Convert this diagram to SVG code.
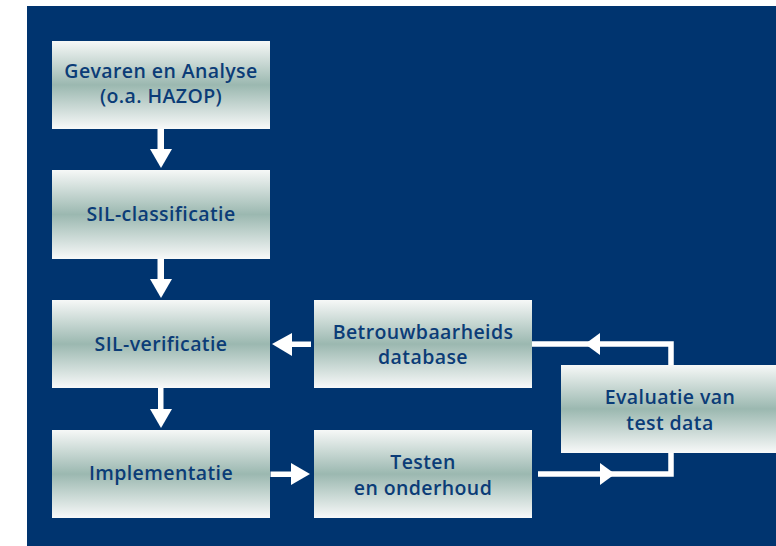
<svg xmlns="http://www.w3.org/2000/svg" width="776" height="546" viewBox="0 0 776 546">
<defs>
<linearGradient id="g" x1="0" y1="0" x2="0" y2="1">
<stop offset="0" stop-color="#f6f8f7"/>
<stop offset="0.5" stop-color="#9bb8b0"/>
<stop offset="1" stop-color="#f8f9f9"/>
</linearGradient>
<style>
.box{fill:url(#g)}
.t{font-family:"Open Sans","DejaVu Sans",sans-serif;font-weight:600;font-size:19.5px;letter-spacing:0.4px;fill:#0b3c77;text-anchor:middle}
.w{fill:#ffffff}
</style>
</defs>
<rect x="0" y="0" width="776" height="546" fill="#ffffff"/>
<rect x="27" y="6" width="749" height="540" fill="#00346f"/>
<g id="connectors">
<rect class="w" x="157.5" y="129" width="6.5" height="21"/>
<polygon class="w" points="150,149 172,149 161,168"/>
<rect class="w" x="157.5" y="259" width="6.5" height="21"/>
<polygon class="w" points="150,279 172,279 161,298"/>
<rect class="w" x="158" y="388" width="5.5" height="22"/>
<polygon class="w" points="150,409 172,409 161,428"/>
<rect class="w" x="291" y="341.5" width="20" height="5.5"/>
<polygon class="w" points="292,333 292,356 272,344"/>
<rect class="w" x="270.5" y="471.5" width="22" height="5.5"/>
<polygon class="w" points="291,463 291,485 310,474"/>
<polyline points="532,344 671,344 671,365" fill="none" stroke="#ffffff" stroke-width="5.5"/>
<polygon class="w" points="600,333 600,355 585,344"/>
<polyline points="538,474 671,474 671,453" fill="none" stroke="#ffffff" stroke-width="5.5"/>
<polygon class="w" points="600,463 600,485 615,474"/>
</g>
<g id="n1"><rect class="box" x="52" y="41" width="218" height="88"/><text class="t" x="161" y="77.5">Gevaren en Analyse</text><text class="t" x="161" y="103">(o.a. HAZOP)</text></g>
<g id="n2"><rect class="box" x="52" y="170" width="218" height="89"/><text class="t" x="161" y="221">SIL-classificatie</text></g>
<g id="n3"><rect class="box" x="52" y="300" width="218" height="88"/><text class="t" x="161" y="351">SIL-verificatie</text></g>
<g id="n4"><rect class="box" x="52" y="430" width="218" height="88"/><text class="t" x="161" y="480">Implementatie</text></g>
<g id="n5"><rect class="box" x="314" y="300" width="218" height="88"/><text class="t" x="423" y="338.5">Betrouwbaarheids</text><text class="t" x="423" y="364">database</text></g>
<g id="n6"><rect class="box" x="314" y="430" width="218" height="88"/><text class="t" x="423" y="468.5">Testen</text><text class="t" x="423" y="494.5">en onderhoud</text></g>
<g id="n7"><rect class="box" x="561" y="365" width="220" height="88"/><text class="t" x="670" y="403.5">Evaluatie van</text><text class="t" x="670" y="430">test data</text></g>
</svg>
